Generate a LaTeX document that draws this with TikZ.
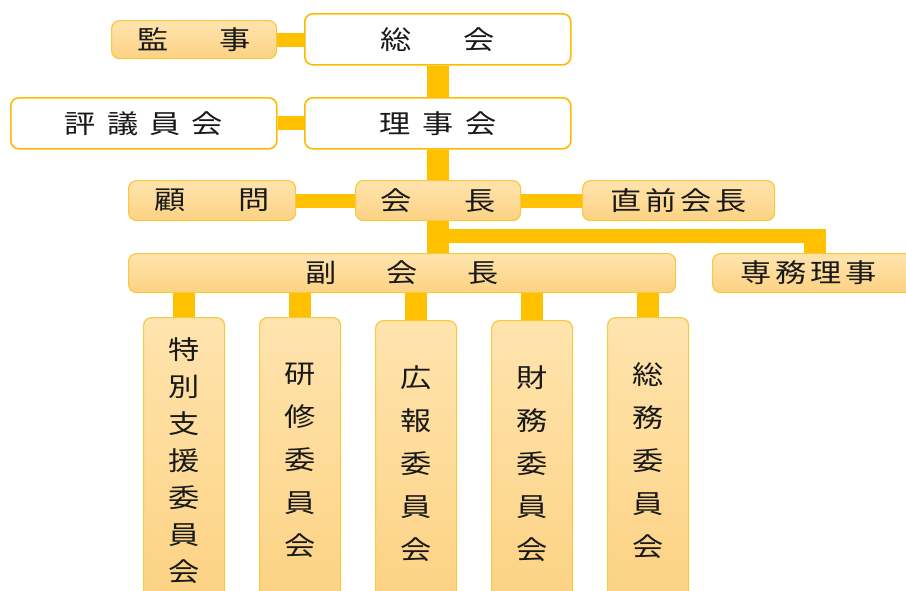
\documentclass[tikz,border=0pt]{standalone}
\usepackage{fontspec}
\newfontfamily\jp[FakeStretch=1.2]{Noto Sans CJK JP}
\usetikzlibrary{backgrounds}
\definecolor{conn}{HTML}{FFC000}
\definecolor{bord}{HTML}{F7C840}
\definecolor{topc}{HTML}{FFE4AE}
\definecolor{botc}{HTML}{FCD282}
\newcommand\g[1]{\hspace{#1pt}}
\tikzset{
  base/.style={rounded corners=8pt, inner sep=0pt, anchor=north west, text=black!90,
    font=\jp\fontsize{26}{30}\selectfont, line width=1.2pt, draw=bord},
  obox/.style={base, top color=topc, bottom color=botc},
  wbox/.style={base, fill=white, line width=1.6pt, draw=conn!90!orange},
  vbox/.style={obox, minimum width=81pt, minimum height=286pt, align=center},
  hl/.style={draw=conn, line width=14pt},
  vl/.style={draw=conn, line width=22pt},
}
\begin{document}
\begin{tikzpicture}[x=1pt,y=-1pt]
\useasboundingbox (0,0) rectangle (906,590);
\clip (0,0) rectangle (906,590);
\node[obox, minimum width=165pt, minimum height=38pt] (kanji) at (111,20) {監\g{51}事};
\node[wbox, minimum width=266pt, minimum height=51pt] (soukai) at (304,13) {総\g{52}会};
\node[wbox, minimum width=266pt, minimum height=51pt] (hyogi) at (10,97) {評\g{11}議\g{11}員\g{11}会};
\node[wbox, minimum width=266pt, minimum height=51pt] (riji) at (304,97) {理\g{12}事\g{12}会};
\node[obox, minimum width=167pt, minimum height=40pt] (komon) at (128,180) {顧\g{53}問};
\node[obox, minimum width=165pt, minimum height=40pt] (kaicho) at (355,180) {会\g{52}長};
\node[obox, minimum width=192pt, minimum height=40pt] (zen) at (582,180) {直\g{4}前\g{4}会\g{4}長};
\node[obox, minimum width=547pt, minimum height=39pt] (fuku) at (128,253) {副\g{50}会\g{50}長};
\node[obox, minimum width=200pt, minimum height=39pt] (senmu) at (712,253) {\hspace{-8pt}専\g{4}務\g{4}理\g{4}事};
\node[vbox, font=\jp\fontsize{26}{37}\selectfont] (c1) at (143,317) {特\\別\\支\\援\\委\\員\\会};
\node[vbox, font=\jp\fontsize{26}{43}\selectfont] (c2) at (259,317) {研\\修\\委\\員\\会};
\node[vbox, font=\jp\fontsize{26}{43}\selectfont] (c3) at (375,320) {広\\報\\委\\員\\会};
\node[vbox, font=\jp\fontsize{26}{43}\selectfont] (c4) at (491,320) {財\\務\\委\\員\\会};
\node[vbox, font=\jp\fontsize{26}{43}\selectfont] (c5) at (607,317) {総\\務\\委\\員\\会};
\begin{scope}[on background layer]
\draw[hl] (kanji.east) -- (kanji.east -| soukai.west);
\draw[vl] (soukai.south) -- (riji.north);
\draw[hl] (hyogi.east) -- (riji.west);
\draw[vl] (riji.south) -- (kaicho.north);
\draw[hl] (komon.east) -- (kaicho.west);
\draw[hl] (kaicho.east) -- (zen.west);
\draw[vl] (kaicho.south) -- (kaicho.south |- fuku.north);
\draw[hl] (kaicho.south |- 0,236) -- (815,236) coordinate (bend);
\draw[draw=conn, line width=22pt] ([yshift=7pt]bend) -- (bend |- senmu.north);
\foreach \c in {c1,c2,c3,c4,c5} \draw[vl] (fuku.south -| \c.north) -- (\c.north);
\end{scope}
\end{tikzpicture}
\end{document}
